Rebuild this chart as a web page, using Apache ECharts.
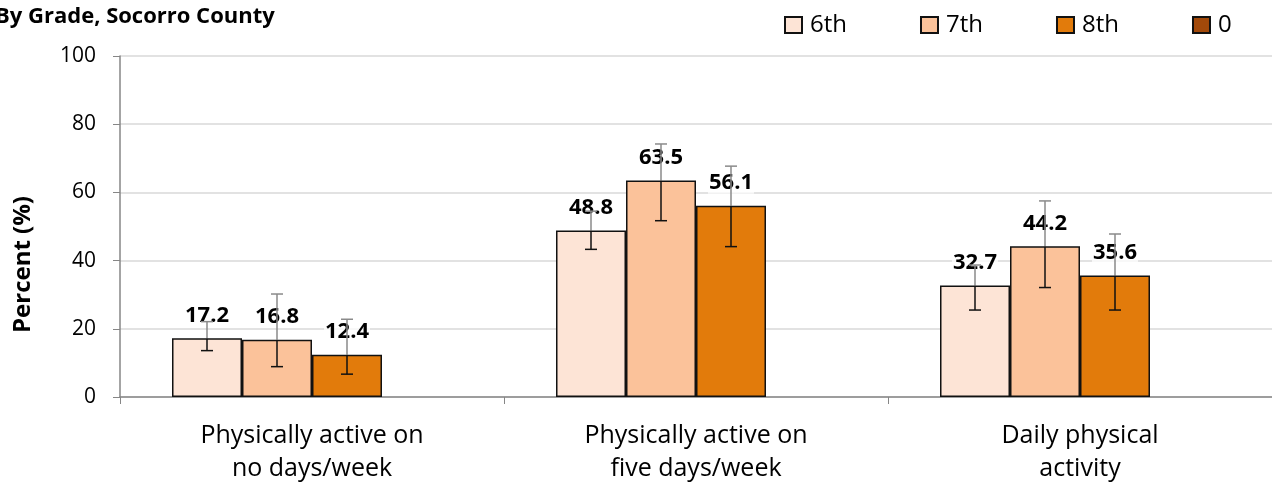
<!DOCTYPE html>
<html><head><meta charset="utf-8">
<script src="https://cdn.jsdelivr.net/npm/echarts@6/dist/echarts.min.js"></script>
<style>html,body{margin:0;padding:0;background:#fff;}#c{width:1272px;height:485px;}</style>
</head><body><div id="c"></div>
<script>
const categories = ['Physically active on\nno days/week', 'Physically active on\nfive days/week', 'Daily physical\nactivity'];
const seriesNames = ['6th', '7th', '8th', '0'];
const grade6 = [17.2, 48.8, 32.7];
const grade7 = [16.8, 63.5, 44.2];
const grade8 = [12.4, 56.1, 35.6];
const grade0 = [];
const low6 = [13.6, 43.3, 25.5];
const high6 = [22.1, 54.5, 38.7];
const low7 = [8.9, 51.7, 32.1];
const high7 = [30.2, 74.2, 57.5];
const low8 = [6.7, 44.1, 25.5];
const high8 = [22.8, 67.7, 47.8];
const yTicks = [0, 20, 40, 60, 80, 100];

const colors = ['#FDE4D6', '#FBC29A', '#E27B0B', '#A2490A'];
const FONT = 'Open Sans';
const BAR_W = 70;

const chart = echarts.init(document.getElementById('c'));

function barSeries(name, data, idx) {
  return {
    name: name, type: 'bar', data: data, barWidth: BAR_W, barGap: '0%', z: 2,
    itemStyle: { color: colors[idx], borderColor: '#111', borderWidth: 1.5 },
    label: {
      show: true, position: 'top', distance: 12,
      fontFamily: FONT, fontWeight: 'bold', fontSize: 22, color: '#000',
      backgroundColor: 'rgba(255,255,255,0.75)', padding: [0, 1, 0, 1],
      formatter: p => p.value.toFixed(1)
    }
  };
}

function errData(vals, lows, highs, sIdx) {
  return vals.map((v, i) => [i, lows[i], highs[i], v, sIdx]);
}

const errAll = [].concat(
  errData(grade6, low6, high6, 0),
  errData(grade7, low7, high7, 1),
  errData(grade8, low8, high8, 2)
);

const errSeries = {
  type: 'custom', z: 5, silent: true,
  data: errAll,
  encode: { x: 0, y: [1, 2] },
  renderItem: function (params, api) {
    const ci = api.value(0), lo = api.value(1), hi = api.value(2), v = api.value(3), s = api.value(4);
    const nSeries = seriesNames.length;
    const center = api.coord([ci, 0])[0];
    const x = center + (s - (nSeries - 1) / 2) * BAR_W;
    const yLo = api.coord([ci, lo])[1];
    const yHi = api.coord([ci, hi])[1];
    const yV = api.coord([ci, Math.min(v, hi)])[1];
    const cap = 6;
    const black = { stroke: '#111', lineWidth: 1.5 };
    const gray = { stroke: '#8a8a8a', lineWidth: 1.5 };
    return {
      type: 'group',
      children: [
        { type: 'line', shape: { x1: x, y1: yLo, x2: x, y2: yV }, style: black },
        { type: 'line', shape: { x1: x - cap, y1: yLo, x2: x + cap, y2: yLo }, style: black },
        { type: 'line', shape: { x1: x, y1: yV, x2: x, y2: yHi }, style: gray },
        { type: 'line', shape: { x1: x - cap, y1: yHi, x2: x + cap, y2: yHi }, style: gray }
      ]
    };
  }
};

chart.setOption({
  animation: false,
  textStyle: { fontFamily: FONT },
  title: {
    text: 'By Grade, Socorro County', left: -10, top: 1,
    textStyle: { fontFamily: FONT, fontWeight: 'bold', fontSize: 22, color: '#000' }
  },
  legend: {
    data: seriesNames, left: 779, top: 8, icon: 'rect',
    itemWidth: 17, itemHeight: 16, itemGap: 73,
    textStyle: { fontFamily: FONT, fontSize: 24, color: '#000', padding: [0, 0, 0, 3] }
  },
  grid: { left: 120, top: 56, width: 1155, bottom: 88 },
  xAxis: {
    type: 'category', data: categories,
    axisLine: { lineStyle: { color: '#868686', width: 1.5 } },
    axisTick: { show: true, length: 7, lineStyle: { color: '#868686' } },
    axisLabel: { fontFamily: FONT, fontSize: 25, color: '#000', lineHeight: 33, margin: 22 }
  },
  yAxis: {
    type: 'value', min: yTicks[0], max: yTicks[yTicks.length - 1], interval: 20,
    name: 'Percent (%)', nameLocation: 'middle', nameGap: 85,
    nameTextStyle: { fontFamily: FONT, fontWeight: 'bold', fontSize: 24, color: '#000', padding: [0, 76, 0, 0] },
    axisLine: { show: true, lineStyle: { color: '#868686', width: 1.5 } },
    axisTick: { show: true, length: 7, lineStyle: { color: '#868686' } },
    splitLine: { lineStyle: { color: '#d9d9d9', width: 1.5 } },
    axisLabel: { fontFamily: FONT, fontSize: 21, color: '#000', margin: 24 }
  },
  series: [
    barSeries('6th', grade6, 0),
    barSeries('7th', grade7, 1),
    barSeries('8th', grade8, 2),
    barSeries('0', grade0, 3),
    errSeries
  ]
});
</script></body></html>
